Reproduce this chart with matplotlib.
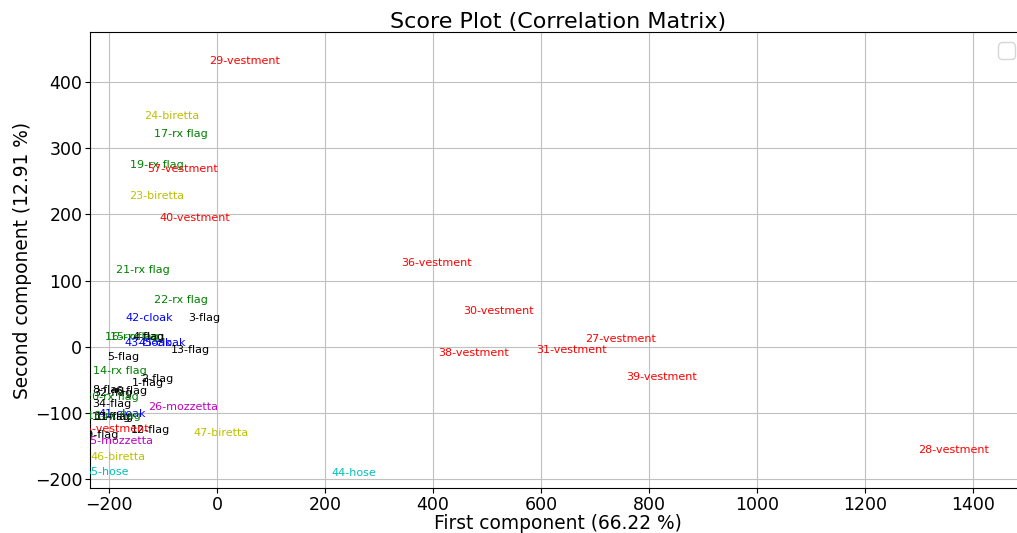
import matplotlib
matplotlib.use("Agg")
import matplotlib.pyplot as plt

# scores on the first two components, one label per object
labels = ["29-vestment", "24-biretta", "17-rx flag", "19-rx flag", "57-vestment",
          "23-biretta", "40-vestment", "21-rx flag", "22-rx flag", "42-cloak",
          "3-flag", "36-vestment", "30-vestment", "27-vestment", "38-vestment",
          "31-vestment", "39-vestment", "28-vestment", "44-hose", "47-biretta",
          "26-mozzetta", "12-flag", "16-rx flag", "15-rx flag", "4-flag",
          "43-cloak", "45-cloak", "13-flag", "5-flag", "14-rx flag", "2-flag",
          "1-flag", "8-flag", "32-flag", "6-flag", "20-rx flag", "34-flag",
          "41-cloak", "10-flag", "11-flag", "18-rx flag", "35-vestment",
          "49-flag", "25-mozzetta", "46-biretta", "55-hose"]
pc1 = [-15, -135, -117, -161, -130, -163, -107, -187, -117, -170,
       -54, 341, 456, 681, 409, 591, 757, 1298, 211, -43,
       -128, -159, -207, -198, -156, -172, -146, -85, -204, -230, -141,
       -157, -230, -230, -189, -245, -231, -219, -232, -226, -240, -257,
       -254, -248, -235, -245]
pc2 = [427, 344, 317, 270, 264, 223, 190, 112, 66, 39,
       39, 122, 50, 8, -14, -9, -50, -160, -195, -134,
       -95, -130, 11, 11, 11, 2, 2, -9, -20, -41, -53,
       -59, -69, -74, -71, -80, -91, -106, -110, -111, -109, -128,
       -137, -146, -171, -193]
colors = ["r", "y", "g", "g", "r", "y", "r", "g", "g", "b",
          "k", "r", "r", "r", "r", "r", "r", "r", "c", "y",
          "m", "k", "g", "g", "k", "b", "b", "k", "k", "g", "k",
          "k", "k", "k", "k", "g", "k", "b", "k", "k", "g", "r",
          "k", "m", "y", "c"]
colmap = {"r": "#ff0000", "g": "#008000", "b": "#0000ff", "k": "#000000",
          "y": "#bfbf00", "c": "#00bfbf", "m": "#bf00bf"}

fig = plt.figure(figsize=(10.17, 5.33), dpi=100)
ax = fig.add_axes([0.0885, 0.0844, 0.9195, 0.8556])

for lab, x, y, c in zip(labels, pc1, pc2, colors):
    ax.text(x, y, lab, color=colmap[c], fontsize=8, clip_on=True)

ax.set_xlim(-235, 1496)
ax.set_ylim(-213, 475)
ax.set_xticks(range(-200, 1401, 200))
ax.set_yticks(range(-200, 401, 100))
ax.tick_params(labelsize=12.5, pad=2)
ax.grid(True, color="#c0c0c0", linewidth=0.8)
ax.set_axisbelow(True)
ax.set_title("Score Plot (Correlation Matrix)", fontsize=16, pad=3)
ax.set_xlabel("First component (66.22 %)", fontsize=13.4, labelpad=0)
ax.set_ylabel("Second component (12.91 %)", fontsize=13.4, labelpad=2)
ax.legend(handles=[], loc="upper right", prop={"size": 15})

fig.savefig("out.png", dpi=100)
